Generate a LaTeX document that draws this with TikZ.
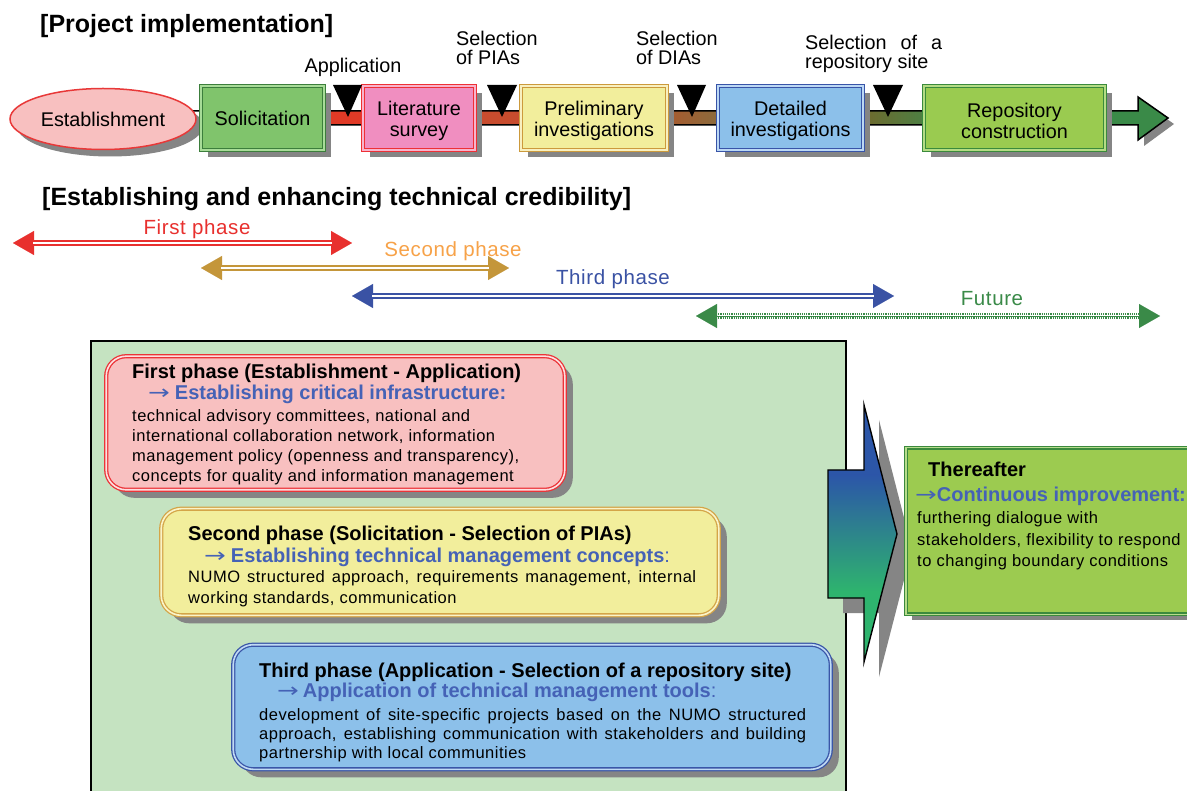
\documentclass[tikz,border=0pt]{standalone}
\usepackage{fontspec}
\usepackage{graphicx}
\setmainfont{Liberation Sans}
\newfontfamily\bodyf[LetterSpace=3]{Liberation Sans}
\newfontfamily\arrf{DejaVu Sans}
\usetikzlibrary{arrows.meta,shadows,shapes.geometric}
\definecolor{shdc}{HTML}{858585}
\definecolor{estF}{HTML}{F8C0C0}\definecolor{estD}{HTML}{E83838}
\definecolor{solF}{HTML}{80C46C}\definecolor{solD}{HTML}{3C7E3C}\definecolor{solL}{HTML}{A8DC98}
\definecolor{litF}{HTML}{F08EC0}\definecolor{litD}{HTML}{EE3036}\definecolor{litL}{HTML}{F8B4CC}
\definecolor{preF}{HTML}{F2EE9C}\definecolor{preD}{HTML}{CC9A3C}\definecolor{preL}{HTML}{F8F0C0}
\definecolor{detF}{HTML}{8CC0EA}\definecolor{detD}{HTML}{3854A8}\definecolor{detL}{HTML}{BCD8F4}
\definecolor{repF}{HTML}{9ACB50}\definecolor{repD}{HTML}{3A8A3C}\definecolor{repL}{HTML}{B4DC84}
\definecolor{barR}{HTML}{E03A26}\definecolor{barO}{HTML}{C84C2E}
\definecolor{barBa}{HTML}{A85A2E}\definecolor{barBb}{HTML}{8C6A3C}
\definecolor{barGa}{HTML}{6E6A2E}\definecolor{barGb}{HTML}{4E7E42}\definecolor{barG}{HTML}{3A8A48}
\definecolor{ph1}{HTML}{E8302E}\definecolor{ph2}{HTML}{C4963A}\definecolor{ph2t}{HTML}{F7A248}
\definecolor{ph3}{HTML}{3A52A4}\definecolor{ph4}{HTML}{3A8A48}
\definecolor{blu}{HTML}{4562B6}
\definecolor{pan}{HTML}{C5E3C1}
\definecolor{bAF}{HTML}{F8C0C0}\definecolor{bAD}{HTML}{EC3338}\definecolor{bAL}{HTML}{FCE0E0}
\definecolor{bBF}{HTML}{F2EE9C}\definecolor{bBD}{HTML}{D4A548}\definecolor{bBL}{HTML}{FAF4C8}
\definecolor{bCF}{HTML}{8CC0EA}\definecolor{bCD}{HTML}{3A56A8}\definecolor{bCL}{HTML}{C0DAF4}
\definecolor{bDF}{HTML}{9CCB50}\definecolor{bDD}{HTML}{3B8A3D}\definecolor{bDL}{HTML}{B8DC8C}
\definecolor{arT}{HTML}{2C56A8}\definecolor{arM}{HTML}{1A7CC4}\definecolor{arB}{HTML}{2EB46E}
\newcommand\rarr{{\arrf\mdseries\scalebox{1.3}[1]{→}}}
\begin{document}
\begin{tikzpicture}[x=1pt,y=-1pt,
  ttl/.style={font=\fontsize{25}{28}\selectfont\bfseries, anchor=base west, inner sep=0pt},
  lbl/.style={font=\fontsize{19.8}{19}\selectfont, anchor=base west, inner sep=0pt},
  tbt/.style={font=\fontsize{19.8}{21.5}\selectfont, align=center, inner sep=0pt},
  plbl/.style={font=\bodyf\fontsize{20.5}{24}\selectfont, anchor=base, inner sep=0pt},
  hd/.style={font=\fontsize{20}{24}\selectfont\bfseries, anchor=base west, inner sep=0pt},
  bl/.style={hd, text=blu},
  bd/.style={font=\bodyf\fontsize{16.5}{20}\selectfont, anchor=base west, inner sep=0pt},
  dbox/.style n args={3}{fill=#1, draw=#2, double=#3, line width=1.3pt, double distance=1.6pt, inner sep=0pt},
  shdw/.style={drop shadow={shadow xshift=#1, shadow yshift=-#1, fill=shdc, opacity=1}},
  tlb/.style={minimum height=63.6pt, shdw=7pt},
  tips/.style={line width=0.1pt, arrows={Triangle[length=21pt,width=24pt]-Triangle[length=21pt,width=24pt]}},
  shaft/.style={line width=6.5pt, shorten <=20pt, shorten >=20pt},
  inner/.style={white, line width=1.6pt, shorten <=20pt, shorten >=20pt}]
\useasboundingbox (0,0) rectangle (1187,791);
\clip (0,0) rectangle (1187,791);
\fill[white] (0,0) rectangle (1187,791);

% titles
\node[ttl] (t1) at (40,32.5) {[Project implementation]};
\node[ttl] (t2) at (42,206) {[Establishing and enhancing technical credibility]};

% timeline bar
\fill[shdc, shift={(6,6)}] (1138,97) -- (1168,118) -- (1138,140) -- cycle;
\fill[barR] (320,111) rectangle (365,125);
\fill[barO] (470,111) rectangle (522,125);
\shade[left color=barBa, right color=barBb] (666,111) rectangle (716,125);
\shade[left color=barGa, right color=barGb] (865,111) rectangle (922,125);
\fill[barG] (1100,111) -- (1138,111) -- (1138,97) -- (1168,118) -- (1138,140) -- (1138,125) -- (1100,125) -- cycle;
\draw[black, line width=1.5pt] (185,111) -- (1138,111) -- (1138,97) -- (1168,118) -- (1138,140) -- (1138,125) -- (185,125);

% timeline boxes
\node[ellipse, fill=estF, draw=estD, line width=1.5pt, minimum width=186pt, minimum height=61pt, inner sep=0pt, shdw=7pt] (est) at (103,119) {};
\node[tbt] (estt) at (est.center) {Establishment};
\node[tlb, dbox={solF}{solD}{solL}, minimum width=122.6pt] (sol) at (262.5,118) {};
\node[tbt] (solt) at (sol.center) {Solicitation};
\node[tlb, dbox={litF}{litD}{litL}, minimum width=111.6pt] (lit) at (419,118) {};
\node[tbt] (litt) at ([yshift=-3pt]lit.center) {Literature\\survey};
\node[tlb, dbox={preF}{preD}{preL}, minimum width=145.6pt] (pre) at (594,118) {};
\node[tbt] (pret) at ([yshift=-3pt]pre.center) {Preliminary\\investigations};
\node[tlb, dbox={detF}{detD}{detL}, minimum width=144.6pt] (det) at (790.5,118) {};
\node[tbt] (dett) at ([yshift=-3pt]det.center) {Detailed\\investigations};
\node[tlb, dbox={repF}{repD}{repL}, minimum width=180.6pt] (rep) at (1014.5,118) {};
\node[tbt] (rept) at ([yshift=-3pt]rep.center) {Repository\\construction};

% milestone triangles
\fill[black] (333,85) -- (362,85) -- (348,117) -- cycle;
\fill[black] (487,85) -- (517,85) -- (502,117) -- cycle;
\fill[black] (677,85) -- (706,85) -- (692,117) -- cycle;
\fill[black] (873,85) -- (903,85) -- (888,117) -- cycle;

% milestone labels
\node[lbl, anchor=base] (lapp) at (353,73) {Application};
\node[lbl] (lpiaa) at (456,46) {Selection};
\node[lbl] (lpiab) at (456,64.5) {of PIAs};
\node[lbl] (ldiaa) at (636,46) {Selection};
\node[lbl] (ldiab) at (636,64.5) {of DIAs};
\node[lbl] (lrepa) at (805,50) {\makebox[137pt][s]{Selection of a}};
\node[lbl] (lrepb) at (805,68.5) {repository site};

% phase arrows
\coordinate (pAa) at (13,243);  \coordinate (pAb) at (352,243);
\coordinate (pBa) at (201,268); \coordinate (pBb) at (509,268);
\coordinate (pCa) at (352,296); \coordinate (pCb) at (894,296);
\coordinate (pDa) at (696,316); \coordinate (pDb) at (1160,316);
\draw[ph1, tips] (pAa) -- (pAb);
\draw[ph1, shaft] (pAa) -- (pAb);
\draw[inner] (pAa) -- (pAb);
\draw[ph2, tips] (pBa) -- (pBb);
\draw[ph2, shaft] (pBa) -- (pBb);
\draw[inner] (pBa) -- (pBb);
\draw[ph3, tips] (pCa) -- (pCb);
\draw[ph3, shaft] (pCa) -- (pCb);
\draw[inner] (pCa) -- (pCb);
\draw[ph4, tips] (pDa) -- (pDb);
\draw[ph4, line width=1.6pt, dash pattern=on 1.2pt off 1pt, shorten <=20pt, shorten >=20pt, transform canvas={yshift=2pt}] (pDa) -- (pDb);
\draw[ph4, line width=1.6pt, dash pattern=on 1.2pt off 1pt, shorten <=20pt, shorten >=20pt, transform canvas={yshift=-2pt}] (pDa) -- (pDb);
\node[plbl, text=ph1] (lA) at (197,235) {First phase};
\node[plbl, text=ph2t] (lB) at (453,256.5) {Second phase};
\node[plbl, text=ph3] (lC) at (613,284.5) {Third phase};
\node[plbl, text=ph4] (lD) at (992,305.5) {Future};

% panel
\draw[fill=pan, draw=black, line width=1.5pt] (91,341) rectangle (846,820);

% phase boxes
\node[dbox={bAF}{bAD}{bAL}, rounded corners=20pt, minimum width=458.6pt, minimum height=133.6pt, shdw=8pt] (bxA) at (335.5,423) {};
\node[hd] (aA) at (132,379) {First phase (Establishment - Application)};
\node[bl] (aB) at (148,400) {\rarr\hspace{5pt}Establishing critical infrastructure:};
\node[bd] (aC) at (132,422) {technical advisory committees, national and};
\node[bd] (aD) at (132,442) {international collaboration network, information};
\node[bd] (aE) at (132,462) {management policy (openness and transparency),};
\node[bd] (aF) at (132,482) {concepts for quality and information management};

\node[dbox={bBF}{bBD}{bBL}, rounded corners=20pt, minimum width=557.6pt, minimum height=106.6pt, shdw=8pt] (bxB) at (440,562) {};
\node[hd] (sA) at (188,540) {Second phase (Solicitation - Selection of PIAs)};
\node[bl] (sB) at (204,562) {\rarr\hspace{5pt}Establishing technical management concepts{\mdseries :}};
\node[bd] (sC) at (188,583) {\makebox[508pt][s]{NUMO structured approach, requirements management, internal}};
\node[bd] (sD) at (188,603) {working standards, communication};

\node[dbox={bCF}{bCD}{bCL}, rounded corners=20pt, minimum width=597.6pt, minimum height=124.6pt, shdw=8pt] (bxC) at (532,707) {};
\node[hd] (cA) at (259,677) {Third phase (Application - Selection of a repository site)};
\node[bl] (cB) at (277,697) {\rarr\hspace{4pt}Application of technical management tools{\mdseries :}};
\node[bd] (cC) at (259,720.5) {\makebox[547pt][s]{development of site-specific projects based on the NUMO structured}};
\node[bd] (cD) at (259,739.5) {\makebox[547pt][s]{approach, establishing communication with stakeholders and building}};
\node[bd] (cE) at (259,758.5) {partnership with local communities};

% big arrow
\fill[shdc, shift={(15,15)}] (828,470) -- (864,470) -- (864,405) -- (897,534) -- (864,662) -- (864,598) -- (828,598) -- cycle;
\begin{scope}
\clip (828,470) -- (864,470) -- (864,405) -- (897,534) -- (864,662) -- (864,598) -- (828,598) -- cycle;
\fill[arT] (820,400) rectangle (900,476);
\shade[top color=arT, middle color=arM, bottom color=arB] (820,475) rectangle (900,592);
\fill[arB] (820,591) rectangle (900,670);
\end{scope}
\draw[black, line width=1.4pt] (828,470) -- (864,470) -- (864,405) -- (897,534) -- (864,662) -- (864,598) -- (828,598) -- cycle;

% thereafter
\node[dbox={bDF}{bDD}{bDL}, minimum width=286.6pt, minimum height=166.6pt, shdw=6pt] (bxD) at (1049.5,531) {};
\node[hd] (dA) at (928,477) {Thereafter};
\node[bl] (dB) at (915,502) {\rarr Continuous improvement:};
\node[bd] (dC) at (917,524) {furthering dialogue with};
\node[bd] (dD) at (917,545.5) {stakeholders, flexibility to respond};
\node[bd] (dE) at (917,566.5) {to changing boundary conditions};
\end{tikzpicture}
\end{document}
